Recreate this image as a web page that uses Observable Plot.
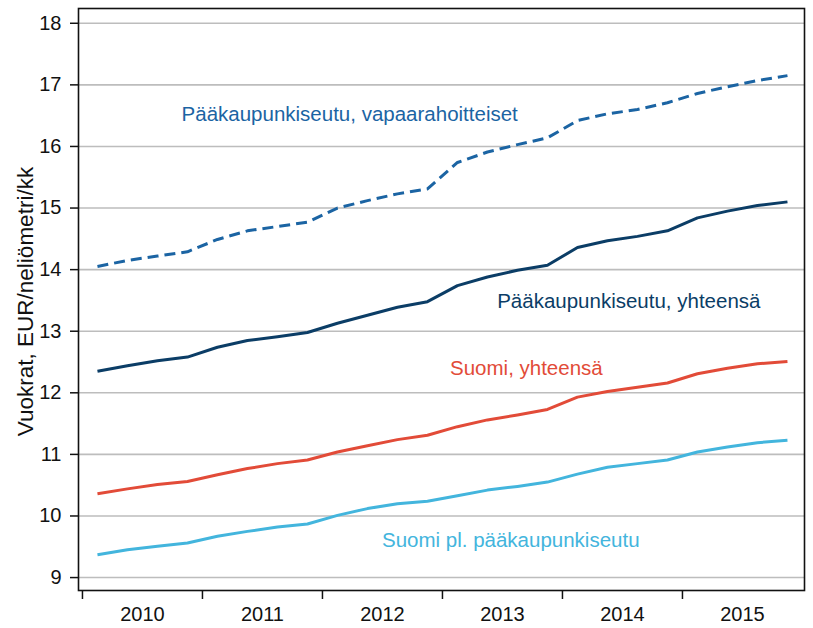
<!DOCTYPE html>
<html>
<head>
<meta charset="utf-8">
<script src="https://cdn.jsdelivr.net/npm/d3@7"></script>
<script src="https://cdn.jsdelivr.net/npm/@observablehq/plot@0.6"></script>
<style>
  html, body { margin: 0; padding: 0; background: #fff; }
  #chart svg { display: block; }
</style>
</head>
<body>
<div id="chart"></div>
<script>
// ---- Data ----
const years = [2010, 2011, 2012, 2013, 2014, 2015];
const quartersPerYear = [1, 2, 3, 4];
const yTicks = [9, 10, 11, 12, 13, 14, 15, 16, 17, 18];

const seriesNames = [
  "Pääkaupunkiseutu, vapaarahoitteiset",
  "Pääkaupunkiseutu, yhteensä",
  "Suomi, yhteensä",
  "Suomi pl. pääkaupunkiseutu"
];
const pksVapaarahoitteiset = [14.05, 14.15, 14.22, 14.29, 14.49, 14.63, 14.70, 14.77, 15.00, 15.12, 15.23, 15.31, 15.74, 15.91, 16.03, 16.14, 16.42, 16.53, 16.60, 16.71, 16.86, 16.97, 17.07, 17.15];
const pksYhteensa = [12.35, 12.44, 12.52, 12.58, 12.74, 12.85, 12.91, 12.98, 13.13, 13.26, 13.39, 13.48, 13.74, 13.88, 13.99, 14.07, 14.36, 14.47, 14.54, 14.63, 14.84, 14.95, 15.04, 15.10];
const suomiYhteensa = [10.36, 10.44, 10.51, 10.56, 10.67, 10.77, 10.85, 10.91, 11.04, 11.14, 11.24, 11.31, 11.45, 11.56, 11.64, 11.73, 11.93, 12.02, 12.09, 12.16, 12.31, 12.40, 12.47, 12.51];
const suomiPlPks = [9.37, 9.45, 9.51, 9.56, 9.67, 9.75, 9.82, 9.87, 10.01, 10.12, 10.20, 10.24, 10.33, 10.42, 10.48, 10.55, 10.68, 10.79, 10.85, 10.91, 11.04, 11.12, 11.19, 11.23];

const yLabel = "Vuokrat, EUR/neliömetri/kk";

// ---- Build table ----
const quarterTimes = years.flatMap(y => quartersPerYear.map(q => y + (q - 0.5) / 4));
const allValues = [pksVapaarahoitteiset, pksYhteensa, suomiYhteensa, suomiPlPks];
const rows = seriesNames.flatMap((name, i) =>
  quarterTimes.map((t, j) => ({series: name, t, value: allValues[i][j]}))
);

const colors = ["#1b64a3", "#0b3d66", "#e24b38", "#43b5dd"];
const dashes = ["11,6", null, null, null];

// series label annotations (anchor positions in data coordinates)
const labels = [
  {text: seriesNames[0], t: 2010.826, v: 16.52, color: colors[0]},
  {text: seriesNames[1], t: 2013.456, v: 13.48, color: colors[1]},
  {text: seriesNames[2], t: 2013.063, v: 12.40, color: colors[2]},
  {text: seriesNames[3], t: 2012.496, v: 9.60, color: colors[3]}
];

const font = "'Liberation Sans', Arial, Helvetica, sans-serif";

const lineMarks = seriesNames.map((name, i) =>
  Plot.line(rows.filter(d => d.series === name), {
    x: "t", y: "value",
    stroke: colors[i],
    strokeWidth: 3,
    strokeDasharray: dashes[i],
    strokeLinejoin: "round",
    strokeLinecap: "butt"
  })
);

const chart = Plot.plot({
  width: 813,
  height: 628,
  marginLeft: 78,
  marginRight: 9,
  marginTop: 8,
  marginBottom: 38,
  style: {fontFamily: font, background: "#fff", color: "#111"},
  x: {domain: [2009.967, 2016.017]},
  y: {domain: [8.79, 18.24]},
  marks: [
    Plot.gridY(yTicks, {stroke: "#bdbdbd", strokeOpacity: 1, strokeWidth: 1.6}),
    ...lineMarks,
    Plot.text(labels, {
      x: "t", y: "v", text: "text", fill: d => d.color,
      textAnchor: "start", fontSize: 20.5, fontFamily: font
    }),
    Plot.frame({stroke: "#111", strokeWidth: 1.6}),
    Plot.axisY({
      ticks: yTicks, tickSize: 8, tickPadding: 9, fontSize: 20,
      label: null, stroke: "#111", strokeWidth: 1.5
    }),
    Plot.axisX({
      ticks: years, tickSize: 9, fill: "none", label: null,
      stroke: "#111", strokeWidth: 1.5
    }),
    Plot.axisX({
      ticks: years.map(y => y + 0.5), tickSize: 0, tickPadding: 16,
      tickFormat: d => String(Math.floor(d)), fontSize: 20, label: null
    }),
    Plot.text([yLabel], {
      frameAnchor: "left", rotate: -90, dx: -53, dy: 2,
      textAnchor: "middle", lineAnchor: "middle",
      text: d => d, fontSize: 22.5, fill: "#111", fontFamily: font
    })
  ]
});

document.getElementById("chart").appendChild(chart);
</script>
</body>
</html>
